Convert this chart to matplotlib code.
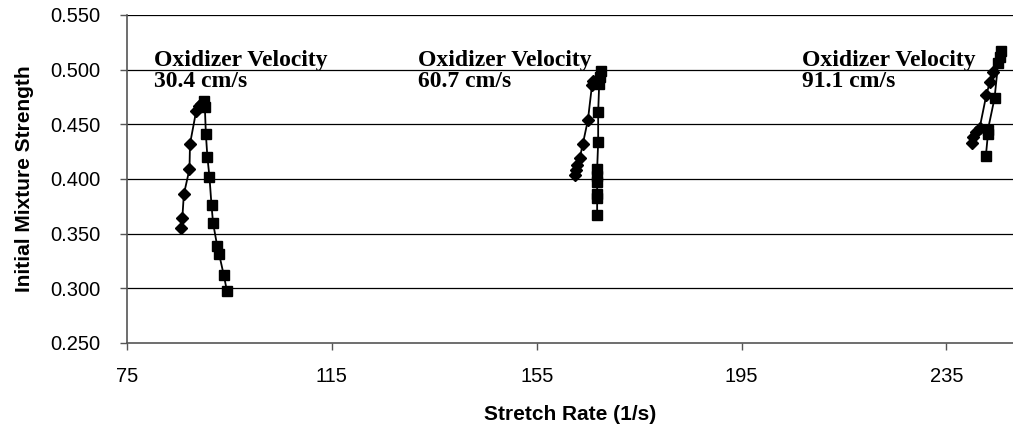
import matplotlib
matplotlib.use("Agg")
import matplotlib.pyplot as plt

# stretch rate (1/s) and initial mixture strength, two branches per oxidizer velocity
lean_x_30 = [85.5, 85.8, 86.1, 87.2, 87.3, 88.5, 89.0, 89.5]
lean_y_30 = [0.355, 0.364, 0.386, 0.409, 0.432, 0.462, 0.467, 0.469]
rich_x_30 = [90.0, 90.2, 90.4, 90.7, 91.1, 91.5, 91.8, 92.6, 93.0, 93.9, 94.5]
rich_y_30 = [0.471, 0.466, 0.441, 0.420, 0.402, 0.376, 0.360, 0.339, 0.331, 0.312, 0.298]

lean_x_60 = [162.4, 162.6, 162.9, 163.4, 164.0, 165.0, 165.8, 166.0]
lean_y_60 = [0.404, 0.408, 0.413, 0.419, 0.432, 0.454, 0.486, 0.490]
rich_x_60 = [167.5, 167.4, 167.2, 167.0, 167.0, 166.8, 166.8, 166.8, 166.8, 166.8, 166.8]
rich_y_60 = [0.499, 0.493, 0.487, 0.461, 0.434, 0.409, 0.403, 0.397, 0.386, 0.383, 0.367]

lean_x_91 = [239.9, 240.2, 240.7, 241.5, 242.8, 243.5, 244.1]
lean_y_91 = [0.433, 0.438, 0.443, 0.447, 0.477, 0.489, 0.498]
rich_x_91 = [245.6, 245.4, 245.1, 244.4, 243.1, 243.1, 242.7]
rich_y_91 = [0.517, 0.512, 0.506, 0.474, 0.445, 0.441, 0.421]

velocity_labels = ["Oxidizer Velocity\n30.4 cm/s",
                   "Oxidizer Velocity\n60.7 cm/s",
                   "Oxidizer Velocity\n91.1 cm/s"]
label_x = [80.2, 131.8, 206.8]
label_y = 0.518

x_ticks = [75, 115, 155, 195, 235]
y_ticks = [0.250, 0.300, 0.350, 0.400, 0.450, 0.500, 0.550]

plt.rcParams['font.family'] = ['Liberation Sans', 'DejaVu Sans']

fig = plt.figure(figsize=(10.13, 4.34), dpi=100)
ax = fig.add_axes([127 / 1013, 1 - 343 / 434, 886 / 1013, 328 / 434])

for y in y_ticks[1:]:
    ax.axhline(y, color="black", lw=0.9, zorder=1)

for xs, ys in [(lean_x_30, lean_y_30), (lean_x_60, lean_y_60), (lean_x_91, lean_y_91)]:
    ax.plot(xs, ys, color="black", lw=1.3, marker="D", markersize=6, zorder=3)
for xs, ys in [(rich_x_30, rich_y_30), (rich_x_60, rich_y_60), (rich_x_91, rich_y_91)]:
    ax.plot(xs, ys, color="black", lw=1.3, marker="s", markersize=7, zorder=3)

for tx, txt in zip(label_x, velocity_labels):
    ax.text(tx, label_y, txt, family=["Liberation Serif", "DejaVu Serif"],
            fontweight="bold", fontsize=17, va="top", ha="left",
            linespacing=0.98, zorder=2)

ax.set_xlim(75, 248)
ax.set_ylim(0.25, 0.55)
ax.set_xticks(x_ticks)
ax.set_yticks(y_ticks)
ax.set_yticklabels([f"{v:.3f}" for v in y_ticks])
ax.tick_params(axis="both", labelsize=14.5, direction="out", length=5,
               color="#555555", width=1)
ax.tick_params(axis="x", pad=12)
ax.tick_params(axis="y", pad=14)

for side in ["top", "right"]:
    ax.spines[side].set_visible(False)
for side in ["left", "bottom"]:
    ax.spines[side].set_color("#555555")
    ax.spines[side].set_linewidth(1.2)

ax.set_xlabel("Stretch Rate (1/s)", fontsize=15, fontweight="bold", labelpad=14)
ax.set_ylabel("Initial Mixture Strength", fontsize=15, fontweight="bold", labelpad=12)

fig.savefig("out.png", dpi=100)
